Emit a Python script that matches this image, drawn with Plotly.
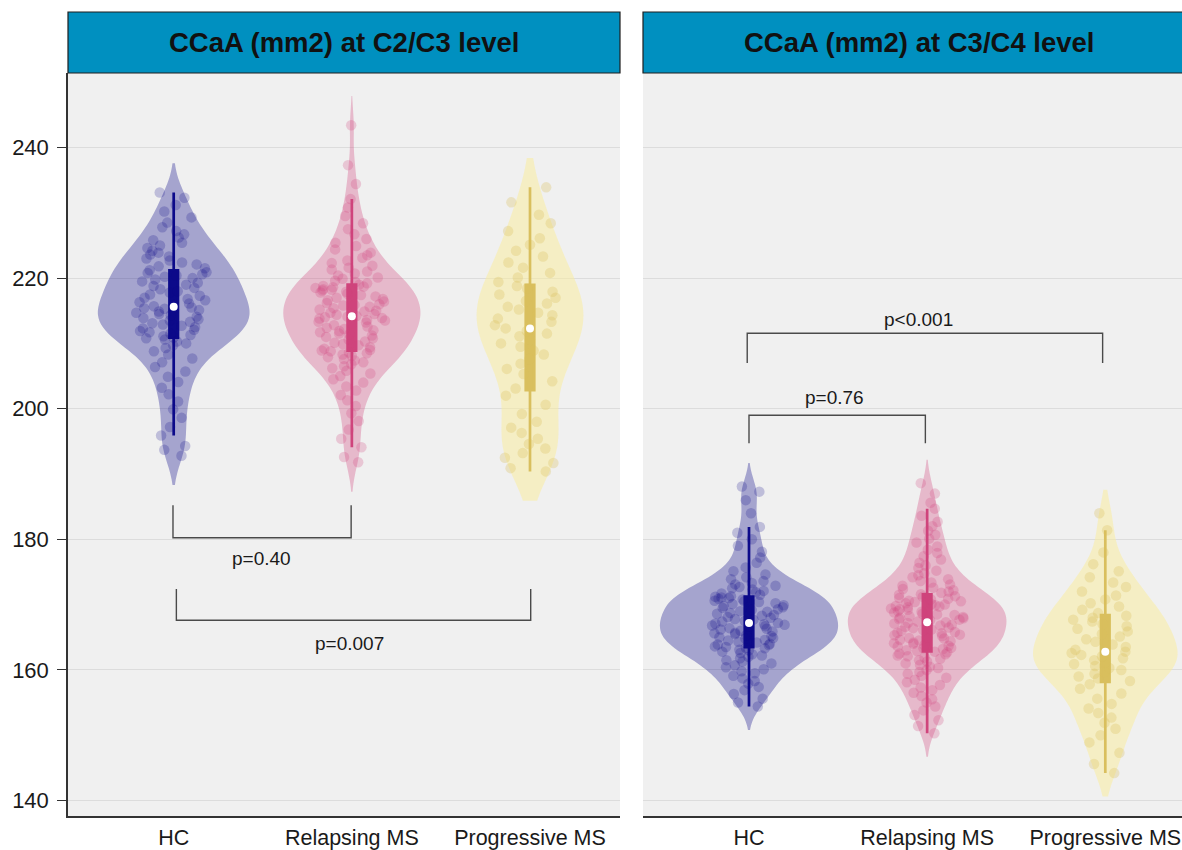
import numpy as np
import plotly.graph_objects as go

# ---------------------------------------------------------------------------
# Data: cervical cord cross-sectional area (mm2) per group
# ---------------------------------------------------------------------------
groups = ["HC", "Relapsing MS", "Progressive MS"]
panel_titles = ["CCaA (mm2) at C2/C3 level", "CCaA (mm2) at C3/C4 level"]
y_ticks = [140, 160, 180, 200, 220, 240]

c23_hc = [
    192.8, 193.7, 194.3, 195.9, 197.2, 198.6, 199.9, 201.1, 202.2, 203.2,
    204.1, 204.9, 205.7, 206.4, 207.1, 207.7, 208.3, 208.8, 209.3, 209.7,
    210.0, 210.3, 210.6, 210.8,
    210.9, 211.1, 211.3, 211.5, 211.7, 211.9, 212.1, 212.3, 212.5, 212.7,
    212.9, 213.1, 213.3, 213.5, 213.7, 213.9, 214.1, 214.3, 214.5, 214.7,
    214.9, 215.1, 215.3, 215.4,
    215.5, 215.7, 215.9, 216.1, 216.3, 216.6, 216.8, 217.0, 217.3, 217.5,
    217.8, 218.0, 218.3, 218.5, 218.8, 219.0, 219.3, 219.5, 219.8, 220.0,
    220.2, 220.4, 220.6, 220.8,
    220.9, 221.2, 221.5, 221.8, 222.1, 222.4, 222.7, 223.0, 223.3, 223.6,
    223.9, 224.2, 224.6, 225.0, 225.4, 225.8, 226.2, 226.7, 227.2, 227.8,
    228.5, 229.3, 230.2, 231.2, 232.3, 233.1,
]
c23_rms = [
    191.8, 192.6, 194.1, 195.4, 196.8, 198.1, 199.3, 200.4, 201.3, 202.1,
    202.8, 203.4, 204.0, 204.5, 205.0, 205.4, 205.8, 206.2, 206.5, 206.8,
    207.1, 207.4, 207.6, 207.9, 208.1, 208.3, 208.5, 208.6, 208.8, 208.9,
    209.0, 209.2, 209.4, 209.7, 209.9, 210.1, 210.3, 210.6, 210.8, 211.0,
    211.2, 211.4, 211.5, 211.7, 211.9, 212.0, 212.2, 212.4, 212.6, 212.8,
    213.0, 213.2, 213.3, 213.5, 213.6, 213.8, 213.9, 214.0, 214.1,
    214.2, 214.4, 214.5, 214.7, 214.9, 215.0, 215.2, 215.4, 215.6, 215.8,
    215.9, 216.0, 216.2, 216.4, 216.6, 216.8, 217.0, 217.2, 217.4, 217.6,
    217.8, 217.9, 218.1, 218.2, 218.3, 218.5, 218.6, 218.7, 218.8,
    219.0, 219.2, 219.4, 219.6, 219.9, 220.1, 220.4, 220.7, 221.0, 221.3,
    221.6, 221.9, 222.3, 222.7, 223.1, 223.5, 223.9, 224.4, 224.9, 225.4,
    226.0, 226.7, 227.5, 228.4, 229.5, 230.8, 232.1, 234.4, 237.3, 243.4,
]
c23_pms = [
    190.4, 190.9, 191.7, 192.5, 193.2, 193.9, 194.6, 195.4, 196.3, 197.1,
    198.0, 199.2, 200.6, 202.0, 203.1,
    204.2, 205.3, 206.1, 206.9, 207.6, 208.3, 208.9, 209.5, 210.0, 210.6,
    211.1, 211.5, 211.9, 212.3,
    212.8, 213.3, 213.8, 214.3, 214.7, 215.2, 215.6, 216.1, 216.5, 217.0,
    217.5, 217.9, 218.4, 218.8,
    219.4, 220.1, 220.8, 221.6, 222.4, 223.3, 224.2, 225.1, 226.1, 227.2,
    228.4, 229.7, 231.6, 233.9,
]

c34_hc = [
    154.4, 155.0, 155.6, 156.3, 156.9, 157.4, 157.9, 158.3, 158.7, 159.1,
    159.5, 159.8, 160.1, 160.4, 160.7, 161.0, 161.3, 161.5, 161.8, 162.0,
    162.2, 162.4, 162.6, 162.8, 163.0, 163.1, 163.3, 163.4, 163.5,
    163.6, 163.8, 163.9, 164.0, 164.2, 164.3, 164.5, 164.6, 164.8, 164.9,
    165.0, 165.2, 165.3, 165.5, 165.6, 165.7, 165.9, 166.0, 166.2, 166.3,
    166.4, 166.6, 166.7, 166.8, 166.9, 167.0, 167.1, 167.2,
    167.4, 167.5, 167.7, 167.8, 168.0, 168.1, 168.3, 168.4, 168.6, 168.7,
    168.9, 169.0, 169.2, 169.3, 169.5, 169.6, 169.8, 169.9, 170.1, 170.2,
    170.4, 170.5, 170.6, 170.8, 170.9, 171.0, 171.1, 171.2,
    171.3, 171.5, 171.7, 171.9, 172.1, 172.3, 172.5, 172.7, 172.9, 173.1,
    173.3, 173.6, 173.9, 174.2, 174.6, 175.1, 175.7, 176.4, 177.2, 178.1,
    179.0, 180.0, 181.0, 181.9, 184.0, 186.0, 187.3, 188.1,
]
c34_rms = [
    150.3, 151.4, 152.3, 153.1, 153.8, 154.4, 155.0, 155.5, 156.0, 156.5,
    156.9, 157.3, 157.7, 158.1, 158.5, 158.8, 159.1, 159.4, 159.7, 160.0,
    160.3, 160.5, 160.8, 161.0, 161.3, 161.5, 161.7, 161.9, 162.1, 162.2,
    162.4, 162.5, 162.7, 162.8,
    162.9, 163.0, 163.2, 163.3, 163.4, 163.6, 163.7, 163.8, 164.0, 164.1,
    164.2, 164.4, 164.5, 164.6, 164.8, 164.9, 165.0, 165.2, 165.3, 165.4,
    165.6, 165.7, 165.8, 166.0, 166.1, 166.2, 166.4, 166.5, 166.6, 166.8,
    166.9, 167.1, 167.2,
    167.3, 167.4, 167.6, 167.7, 167.8, 167.9, 168.0, 168.1, 168.2, 168.4,
    168.5, 168.6, 168.8, 168.9, 169.0, 169.2, 169.3, 169.4, 169.6, 169.7,
    169.8, 169.9, 170.0, 170.1, 170.2, 170.4, 170.5, 170.6, 170.8, 170.9,
    171.0, 171.2, 171.3, 171.5, 171.6,
    171.8, 172.0, 172.2, 172.4, 172.6, 172.9, 173.1, 173.4, 173.6, 173.9,
    174.2, 174.5, 174.8, 175.2, 175.6, 176.0, 176.4, 176.9, 177.4, 177.9,
    178.4, 178.9, 179.5, 180.1, 180.7, 181.3, 182.0, 182.7, 183.6, 184.7,
    185.6, 187.0, 188.6,
]
c34_pms = [
    144.2, 145.6, 147.3, 148.9, 150.0, 151.0, 151.9, 152.7, 153.4, 154.1,
    154.8, 155.6, 156.4, 157.1, 157.8, 158.3,
    158.7, 159.0, 159.4, 159.7, 160.0, 160.3, 160.6, 160.9, 161.2, 161.5,
    161.8, 162.1, 162.3, 162.6, 162.8,
    163.1, 163.5, 163.9, 164.3, 164.7, 165.1, 165.5, 165.9, 166.3, 166.7,
    167.0, 167.4, 167.7, 168.0, 168.3,
    168.7, 169.2, 169.7, 170.2, 170.8, 171.4, 172.0, 172.7, 173.4, 174.2,
    175.1, 176.2, 178.0, 181.4, 184.0,
]

# pairwise comparisons shown on each panel
c23_tests = ["p=0.40", "p=0.007"]
c34_tests = ["p=0.76", "p<0.001"]

# ---------------------------------------------------------------------------
# Styling
# ---------------------------------------------------------------------------
FONT = "Liberation Sans, Arial, sans-serif"
W, H = 1182, 850
box_colors = ["#0C0A8A", "#CF447C", "#D9BF5E"]
violin_fills = ["rgba(12,10,138,0.33)", "rgba(207,68,124,0.32)", "rgba(250,236,160,0.55)"]
point_colors = ["rgba(12,10,138,0.22)", "rgba(207,68,124,0.24)", "rgba(217,191,94,0.30)"]

# pixel geometry of the two facets
PX_PER_UNIT = 178.15
left_px = (68, 620)
right_px = (643, 1182)
panel_top, panel_bottom = 73, 816
strip_top = 12


def nrd0(v):
    v = np.asarray(v, dtype=float)
    sd = v.std(ddof=1)
    iqr = np.subtract(*np.percentile(v, [75, 25]))
    return 0.9 * min(sd, iqr / 1.34) * len(v) ** -0.2


fig = go.Figure()

# (x axis, y axis, series, violin widths, tail extension beyond the data)
panels = [
    ("x", "y", [c23_hc, c23_rms, c23_pms], [0.85, 0.77, 0.60], 4.5),
    ("x2", "y2", [c34_hc, c34_rms, c34_pms], [1.00, 0.89, 0.81], 3.6),
]

for xa, ya, series, widths, ext in panels:
    for i, (vals, w) in enumerate(zip(series, widths)):
        half_px = w * PX_PER_UNIT / 2
        fig.add_trace(go.Violin(
            x0=i + 1, y=vals, name=groups[i],
            xaxis=xa, yaxis=ya,
            width=w, scalemode="width",
            bandwidth=nrd0(vals),
            spanmode="manual", span=[min(vals) - ext, max(vals) + ext],
            fillcolor=violin_fills[i],
            line=dict(width=0, color=violin_fills[i]),
            points="all", pointpos=0, jitter=38 / half_px,
            marker=dict(size=10.5, color=point_colors[i], line=dict(width=0)),
            box=dict(visible=True, width=8.5 / (w * PX_PER_UNIT),
                     fillcolor=box_colors[i],
                     line=dict(color=box_colors[i], width=2.7)),
            meanline=dict(visible=False),
            showlegend=False, hoverinfo="skip",
        ))
    # median markers
    fig.add_trace(go.Scatter(
        x=[1, 2, 3], y=[float(np.median(v)) for v in series],
        xaxis=xa, yaxis=ya, mode="markers",
        marker=dict(size=8, color="white", line=dict(width=0)),
        showlegend=False, hoverinfo="skip",
    ))

# significance brackets: (xref, yref, x_left, x_right, y_line, y_leg_end, label, label_x, label_y)
brackets = [
    ("x", "y", 0.996, 1.996, 180.25, 185.2, c23_tests[0], 1.494, 177.1),
    ("x", "y", 1.015, 3.004, 167.6, 172.4, c23_tests[1], 1.989, 164.1),
    ("x2", "y2", 1.000, 1.990, 199.0, 194.7, c34_tests[0], 1.478, 201.75),
    ("x2", "y2", 0.990, 2.985, 211.55, 207.0, c34_tests[1], 1.951, 213.7),
]
for xr, yr, xl, xrt, yl, ye, lab, lx, ly in brackets:
    fig.add_shape(type="path", xref=xr, yref=yr,
                  path=f"M {xl},{ye} L {xl},{yl} L {xrt},{yl} L {xrt},{ye}",
                  line=dict(color="#4A4A4A", width=1.4))
    fig.add_annotation(x=lx, y=ly, xref=xr, yref=yr, text=lab, showarrow=False,
                       font=dict(family=FONT, size=19, color="#1A1A1A"),
                       xanchor="center", yanchor="middle")

# facet strips
for (x0, x1) in [left_px, (right_px[0], right_px[1] + 20)]:
    fig.add_shape(type="rect", xref="paper", yref="paper",
                  x0=x0 / W, x1=x1 / W, y0=1 - panel_top / H, y1=1 - strip_top / H,
                  fillcolor="#0090C0", line=dict(color="#1E1E1E", width=1.2), layer="above")
full_centers = [(left_px[0] + left_px[1]) / 2, right_px[0] + (left_px[1] - left_px[0]) / 2]
for cx, title in zip(full_centers, panel_titles):
    fig.add_annotation(x=cx / W, y=1 - (strip_top + panel_top) / 2 / H, xref="paper", yref="paper",
                       text=f"<b>{title}</b>", showarrow=False,
                       font=dict(family=FONT, size=27.5, color="#111111"),
                       xanchor="center", yanchor="middle")

y_range = [137.63, 251.41]
common_x = dict(
    tickvals=[1, 2, 3], ticktext=groups, showgrid=False, zeroline=False,
    showline=True, linecolor="#333333", linewidth=2, ticks="", ticklabelstandoff=1,
    tickfont=dict(family=FONT, size=21.5, color="#1A1A1A"), ticklabeloverflow="allow",
    automargin=False,
)
fig.update_layout(
    width=W, height=H,
    margin=dict(l=0, r=0, t=0, b=0, pad=0),
    paper_bgcolor="white", plot_bgcolor="#F0F0F0",
    violinmode="overlay",
    xaxis=dict(domain=[left_px[0] / W, left_px[1] / W],
               range=[1 - (173.7 - left_px[0]) / PX_PER_UNIT, 1 + (left_px[1] - 173.7) / PX_PER_UNIT],
               **common_x),
    xaxis2=dict(domain=[right_px[0] / W, 1.0],
                range=[1 - (749 - right_px[0]) / PX_PER_UNIT, 1 + (right_px[1] - 749) / PX_PER_UNIT],
                anchor="y2", **common_x),
    yaxis=dict(domain=[1 - panel_bottom / H, 1 - panel_top / H], range=y_range,
               tickvals=y_ticks, showgrid=True, gridcolor="#DCDCDC", gridwidth=1,
               zeroline=False, showline=True, linecolor="#333333", linewidth=1.5,
               ticks="outside", ticklen=9, tickwidth=1.3, tickcolor="#333333",
               ticklabelstandoff=4, automargin=False,
               tickfont=dict(family=FONT, size=22, color="#1A1A1A")),
    yaxis2=dict(domain=[1 - panel_bottom / H, 1 - panel_top / H], range=y_range,
                anchor="x2", matches="y", tickvals=y_ticks, showgrid=True,
                gridcolor="#DCDCDC", gridwidth=1, zeroline=False, showline=False,
                showticklabels=False, ticks="", automargin=False),
)

fig.write_html("out.html")
